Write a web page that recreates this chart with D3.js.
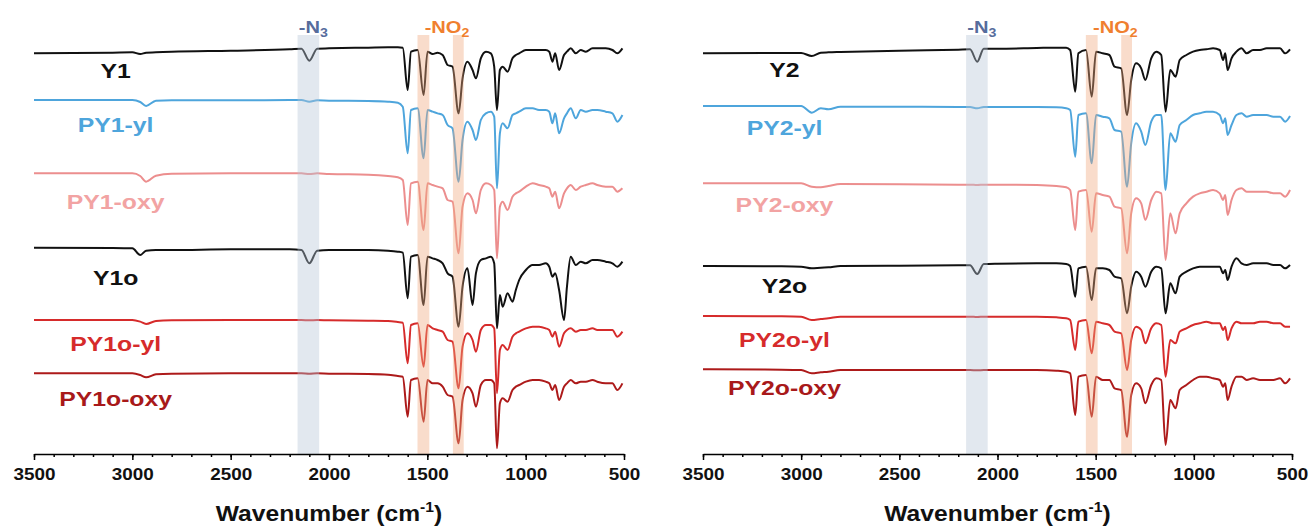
<!DOCTYPE html>
<html>
<head>
<meta charset="utf-8">
<script src="https://cdn.jsdelivr.net/npm/d3@7"></script>
<style>
  body { margin: 0; background: #fff; }
  text { font-family: Arial, "Liberation Sans", sans-serif; font-weight: bold; }
</style>
</head>
<body>
<svg id="chart" width="1312" height="528"></svg>
<script>
// FTIR spectra, two panels, stacked traces (offset signal in a.u., larger = lower)

// wavenumbers (cm-1) for each panel
var wnLeft = [3500,3100,3000,2960,2930,2880,2800,2500,2200,2140,2100,2060,2000,1800,1700,1650,
  1625,1600,1583,1549,1519,1499,1473,1448,1422,1397,1372,1341,1321,1296,1270,1253,1228,1202,1177,1160,
  1146,1131,1117,1092,1067,1050,1033,999,965,932,898,880,864,850,830,805,790,771,745,720,694,660,636,593,559,534,508];
var wnRight = [3500,3100,3000,2946,2900,2861,2800,2500,2200,2140,2103,2070,2000,1800,1700,1650,
  1630,1604,1588,1549,1520,1498,1464,1430,1404,1370,1340,1319,1294,1268,1247,1217,1191,1166,1144,1120,
  1093,1072,1038,1004,970,936,902,868,851,840,828,808,783,757,731,698,663,629,595,561,535,510];

var namesLeft = ["Y1", "PY1-yl", "PY1-oxy", "Y1o", "PY1o-yl", "PY1o-oxy"];
var namesRight = ["Y2", "PY2-yl", "PY2-oxy", "Y2o", "PY2o-yl", "PY2o-oxy"];

// left panel traces
var y1 = [160,158,157,162,158,157,155,152,148,146,182,146,145,143,142,142,
  143,270,155,150,285,155,162,158,165,195,200,340,235,185,210,235,175,155,160,200,330,210,200,215,175,165,160,150,150,150,150,155,185,160,210,165,155,145,160,150,155,145,145,145,150,160,145];
var py1Yl = [300,300,300,306,318,302,301,301,300,300,305,301,302,303,305,308,
  320,460,330,325,475,330,335,340,345,375,385,545,420,365,390,420,360,340,335,350,565,400,370,385,345,340,335,325,325,330,330,335,370,340,400,355,340,325,355,330,335,330,330,335,340,365,345];
var py1Oxy = [520,520,520,528,545,527,521,520,520,520,522,520,522,524,528,532,
  540,675,550,545,690,550,555,560,565,600,605,760,620,580,600,640,570,550,555,570,775,620,605,630,590,580,575,560,550,555,560,565,590,575,625,580,565,555,570,560,555,550,555,560,560,575,565];
var y1o = [743,744,745,765,752,750,750,748,748,750,790,752,750,750,752,755,
  758,895,770,765,915,770,775,780,790,820,830,980,860,805,915,820,780,775,770,790,985,885,920,880,905,870,840,810,795,795,790,800,830,820,870,960,860,770,795,785,790,780,780,785,790,800,785];
var py1oYl = [960,960,960,965,972,963,961,960,960,960,961,960,961,962,963,966,
  968,1090,975,970,1100,975,985,990,995,1020,1025,1165,1040,1000,1020,1055,990,975,975,985,1180,1050,1035,1050,1010,1000,995,985,980,980,985,990,1010,995,1040,1000,990,985,995,990,990,985,990,990,990,1010,995];
var py1oOxy = [1120,1120,1120,1125,1132,1123,1121,1120,1120,1120,1121,1120,1121,1122,1124,1128,
  1130,1250,1140,1135,1265,1140,1150,1150,1160,1185,1190,1330,1200,1160,1180,1220,1155,1140,1140,1150,1345,1210,1195,1205,1170,1160,1155,1145,1140,1140,1145,1150,1170,1155,1200,1160,1150,1140,1150,1145,1145,1140,1145,1150,1150,1170,1150];

// right panel traces
var y2 = [160,159,159,168,158,157,156,152,149,148,185,146,146,144,143,143,
  150,275,160,150,290,155,160,165,200,205,345,240,190,205,240,175,155,165,335,210,230,180,165,155,150,148,145,150,180,160,210,175,155,145,160,150,150,145,145,145,160,148];
var py2Yl = [318,318,318,338,325,328,320,320,321,321,325,321,321,321,322,325,
  330,470,345,340,490,345,350,355,390,395,560,430,370,395,435,365,345,345,570,400,425,375,360,345,340,335,335,345,370,355,405,375,345,340,350,345,345,345,350,350,365,348];
var py2Oxy = [550,550,550,560,562,558,552,553,554,554,555,554,554,555,558,562,
  570,690,575,570,695,580,585,590,620,625,760,640,595,610,660,600,575,580,780,640,700,640,610,590,580,575,570,580,600,585,645,600,570,565,575,575,575,575,580,580,590,570];
var y2o = [798,799,800,805,803,802,798,797,796,796,822,792,791,790,790,792,
  798,890,805,800,900,805,805,810,830,835,940,860,815,830,860,815,800,805,940,850,880,830,815,805,800,800,800,800,820,810,840,800,775,790,795,790,790,790,795,795,805,795];
var py2oYl = [948,949,950,960,957,955,950,950,950,950,951,950,950,950,952,955,
  960,1050,965,960,1060,965,970,975,995,1000,1110,1020,980,990,1030,985,970,975,1130,1020,1030,995,985,975,970,965,970,970,990,980,1020,985,965,970,970,970,965,965,970,970,980,980];
var py2oOxy = [1108,1109,1110,1120,1117,1115,1110,1110,1110,1110,1111,1110,1110,1110,1112,1115,
  1120,1245,1130,1125,1250,1130,1140,1140,1165,1170,1310,1185,1150,1165,1210,1155,1135,1140,1335,1200,1225,1170,1155,1140,1130,1130,1135,1140,1160,1150,1200,1160,1130,1130,1140,1135,1140,1140,1140,1135,1150,1135];

// highlighted bands [from, to] in cm-1
var bandN3 = [[2160, 2050]];
var bandNO2 = [[1550, 1490], [1370, 1315]];

// styles
var lineColors = ["#111111", "#4ea5dc", "#ec8e8e", "#111111", "#d62b2b", "#ad1a1a"];
var labelColors = ["#111111", "#4ea5dc", "#f2a3a3", "#111111", "#d62b2b", "#a8191a"];
var stretch = 1.18;

var panels = [
  { wn: wnLeft, series: [y1, py1Yl, py1Oxy, y1o, py1oYl, py1oOxy], names: namesLeft,
    x0: 34, x1: 624, labelLevel: [234, 396, 627, 855, 1053, 1218] },
  { wn: wnRight, series: [y2, py2Yl, py2Oxy, y2o, py2oYl, py2oOxy], names: namesRight,
    x0: 703, x1: 1292, labelLevel: [231, 405, 636, 879, 1041, 1185] }
];

var svg = d3.select("#chart");
var axis_y = 454;
var band_top = 35;

var y = d3.scaleLinear().domain([0, 1362]).range([0, axis_y]);

panels.forEach(function(p) {
  var x = d3.scaleLinear().domain([3500, 500]).range([p.x0, p.x1]);
  var g = svg.append("g");

  var line = d3.line()
    .x(function(d) { return x(d[0]); })
    .y(function(d) { return y(d[1]); })
    .curve(d3.curveMonotoneX);

  // traces
  p.series.forEach(function(s, i) {
    var pts = p.wn.map(function(w, k) { return [w, s[k]]; });
    g.append("path")
      .attr("d", line(pts))
      .attr("fill", "none")
      .attr("stroke", lineColors[i])
      .attr("stroke-width", 2)
      .attr("stroke-linejoin", "round");
  });

  // translucent bands over the traces
  g.selectAll(".n3").data(bandN3).enter().append("rect")
    .attr("x", function(d) { return x(d[0]); })
    .attr("width", function(d) { return x(d[1]) - x(d[0]); })
    .attr("y", band_top)
    .attr("height", axis_y - band_top)
    .attr("fill", "rgb(182,198,215)")
    .attr("opacity", 0.4);
  g.selectAll(".no2").data(bandNO2).enter().append("rect")
    .attr("x", function(d) { return x(d[0]); })
    .attr("width", function(d) { return x(d[1]) - x(d[0]); })
    .attr("y", band_top)
    .attr("height", axis_y - band_top)
    .attr("fill", "rgb(240,168,125)")
    .attr("opacity", 0.4);

  // band labels
  var tN3 = g.append("text")
    .attr("transform", "translate(" + x(2080) + ",33) scale(" + stretch + ",1)")
    .attr("text-anchor", "middle")
    .attr("fill", "#566c9c")
    .style("font-size", "17px");
  tN3.append("tspan").text("-N");
  tN3.append("tspan").attr("dy", 4).style("font-size", "12px").text("3");

  var tNO2 = g.append("text")
    .attr("transform", "translate(" + x(1400) + ",33) scale(" + stretch + ",1)")
    .attr("text-anchor", "middle")
    .attr("fill", "#f07f2f")
    .style("font-size", "17px");
  tNO2.append("tspan").text("-NO");
  tNO2.append("tspan").attr("dy", 4).style("font-size", "12px").text("2");

  // series labels
  p.names.forEach(function(n, i) {
    g.append("text")
      .attr("transform", "translate(" + x(3085) + "," + y(p.labelLevel[i]) + ") scale(" + stretch + ",1)")
      .attr("text-anchor", "middle")
      .attr("fill", labelColors[i])
      .style("font-size", "21px")
      .text(n);
  });

  // minor ticks
  g.append("g")
    .attr("transform", "translate(0," + axis_y + ")")
    .call(d3.axisBottom(x).tickValues(d3.range(500, 3501, 100)).tickSize(3).tickSizeOuter(0).tickFormat(""))
    .call(function(a) { a.selectAll("line").attr("stroke-width", 1.5); a.select(".domain").remove(); });

  // major ticks and axis line
  var ax = g.append("g")
    .attr("transform", "translate(0," + axis_y + ")")
    .call(d3.axisBottom(x).tickValues(d3.range(500, 3501, 500)).tickSize(6).tickSizeOuter(0).tickPadding(9).tickFormat(d3.format("d")));
  ax.select(".domain").attr("stroke-width", 1.5);
  ax.selectAll("line").attr("stroke-width", 1.5);
  ax.selectAll("text")
    .attr("transform", "scale(" + stretch + ",1)")
    .attr("fill", "#111")
    .style("font-size", "16px")
    .style("font-family", "Arial, 'Liberation Sans', sans-serif")
    .style("font-weight", "bold");

  // x axis title
  var t = g.append("text")
    .attr("transform", "translate(" + (p.x0 + p.x1) / 2 + ",521) scale(1.12,1)")
    .attr("text-anchor", "middle")
    .attr("fill", "#111")
    .style("font-size", "22px");
  t.append("tspan").text("Wavenumber (cm");
  t.append("tspan").attr("dy", -9).style("font-size", "14px").text("-1");
  t.append("tspan").attr("dy", 9).text(")");
});
</script>
</body>
</html>
